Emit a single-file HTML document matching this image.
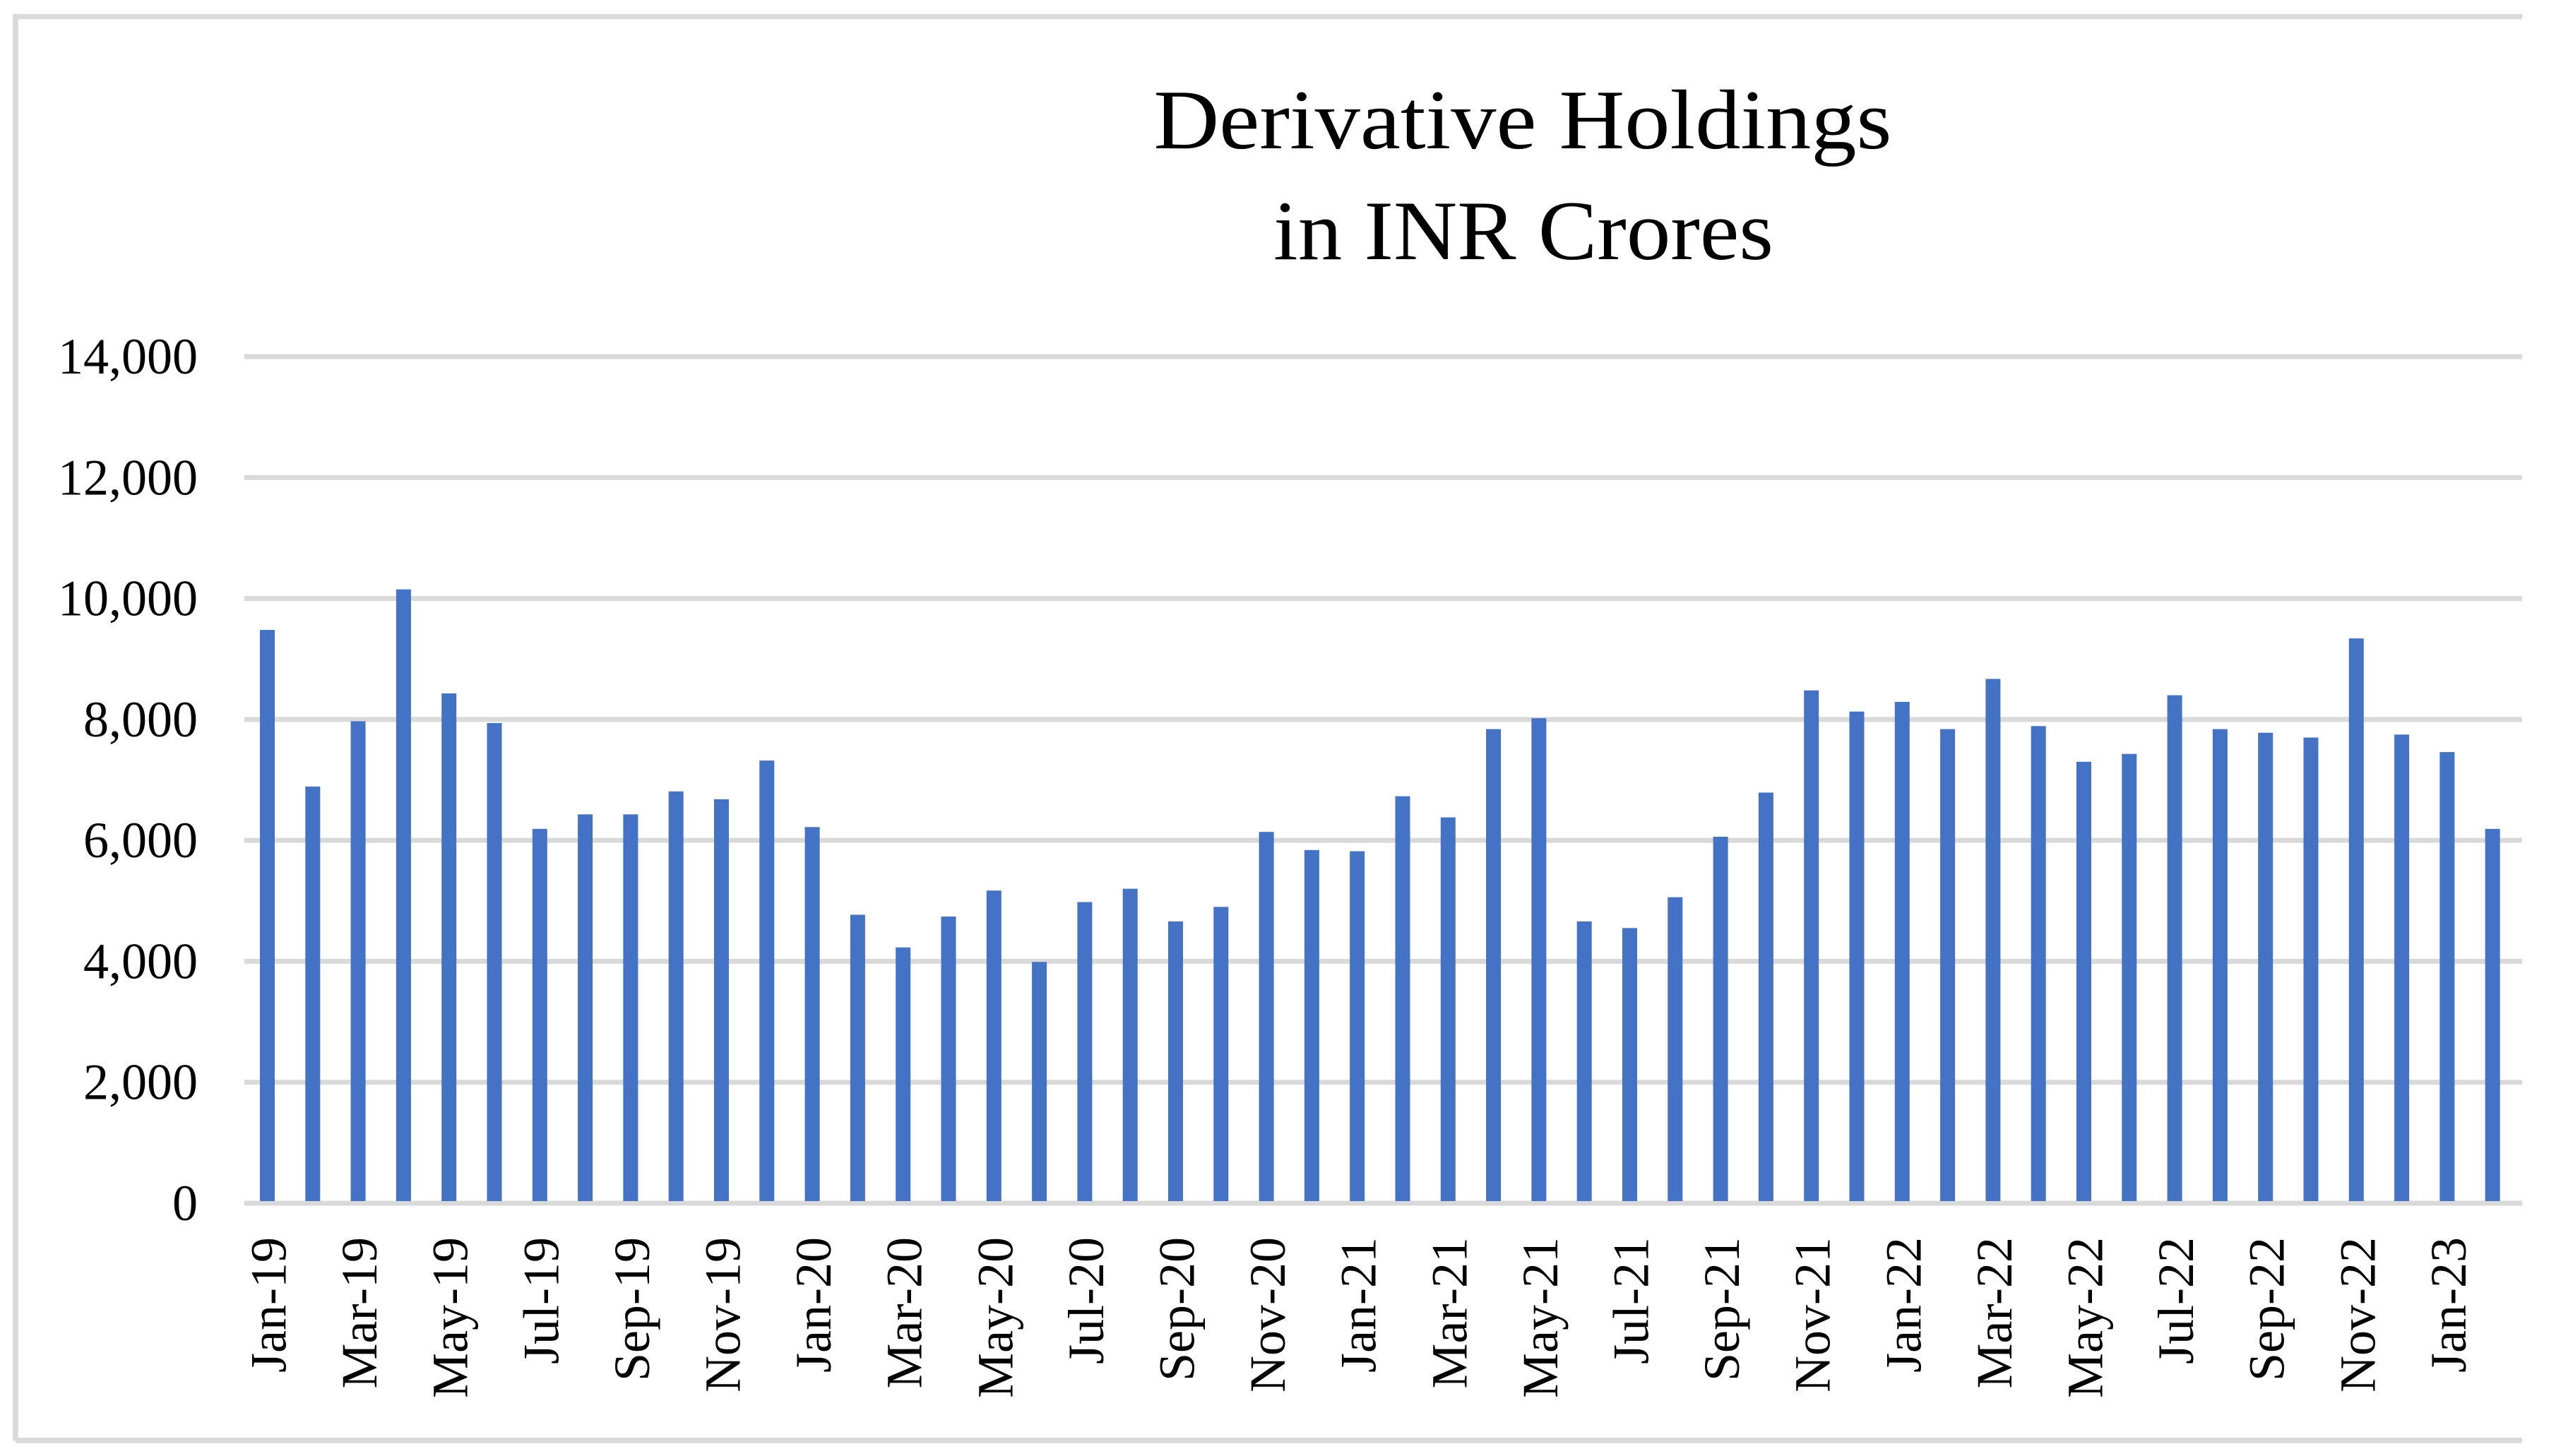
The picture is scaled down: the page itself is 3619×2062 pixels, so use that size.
<!DOCTYPE html>
<html><head><meta charset="utf-8"><style>html,body{margin:0;padding:0;background:#fff;}svg{display:block;}</style></head>
<body>
<svg id="chart" width="3619" height="2062" viewBox="0 0 3619 2062" xmlns="http://www.w3.org/2000/svg">
<defs><clipPath id="clip"><rect x="0" y="0" width="3571" height="2062"/></clipPath></defs>
<rect width="3619" height="2062" fill="#fff"/>
<g clip-path="url(#clip)">
<path d="M22,2040 V23.5 H3600 M22,2040 H3600" fill="none" stroke="#D9D9D9" stroke-width="7.5"/>
<text x="2156" y="210" text-anchor="middle" font-family="Liberation Serif, serif" font-size="120" textLength="1045" lengthAdjust="spacingAndGlyphs">Derivative Holdings</text>
<text x="2157" y="367" text-anchor="middle" font-family="Liberation Serif, serif" font-size="120" textLength="708" lengthAdjust="spacingAndGlyphs">in INR Crores</text>
<g id="grid"></g><g id="bars"></g><g id="ylabels"></g><g id="xlabels"></g>
</g>
</svg>
<script>
const months = ["Jan-19","Feb-19","Mar-19","Apr-19","May-19","Jun-19","Jul-19","Aug-19","Sep-19","Oct-19","Nov-19","Dec-19",
"Jan-20","Feb-20","Mar-20","Apr-20","May-20","Jun-20","Jul-20","Aug-20","Sep-20","Oct-20","Nov-20","Dec-20",
"Jan-21","Feb-21","Mar-21","Apr-21","May-21","Jun-21","Jul-21","Aug-21","Sep-21","Oct-21","Nov-21","Dec-21",
"Jan-22","Feb-22","Mar-22","Apr-22","May-22","Jun-22","Jul-22","Aug-22","Sep-22","Oct-22","Nov-22","Dec-22",
"Jan-23","Feb-23","Mar-23"];
const holdings = [9480,6890,7970,10150,8430,7940,6190,6430,6430,6810,6680,7320,
6220,4770,4230,4740,5170,3990,4980,5200,4660,4900,6140,5840,
5820,6730,6380,7840,8020,4660,4550,5060,6060,6790,8480,8130,
8290,7840,8670,7890,7300,7430,8400,7840,7780,7700,9340,7750,
7460,6190];
const yTicks = [0,2000,4000,6000,8000,10000,12000,14000];
const yTickLabels = ["0","2,000","4,000","6,000","8,000","10,000","12,000","14,000"];

const NS="http://www.w3.org/2000/svg";
const plotL=346, plotR=3571, y0=1704, yTop=505, yMax=14000;
const step=64.3, barW=21;
function yScale(v){return y0-(v/yMax)*(y0-yTop);}
function xCenter(i){return plotL+32.5+i*step;}
function mk(tag,attrs,parent){const e=document.createElementNS(NS,tag);for(const k in attrs)e.setAttribute(k,attrs[k]);parent.appendChild(e);return e;}

const grid=document.getElementById('grid');
yTicks.forEach((t,i)=>{
  const l=mk('line',{x1:plotL,x2:plotR,y1:yScale(t),y2:yScale(t),stroke:'#D9D9D9','stroke-width':7},grid);
  
  
  const tx=mk('text',{x:280,y:yScale(t),'text-anchor':'end','dominant-baseline':'central','font-family':'Liberation Serif, serif','font-size':72},document.getElementById('ylabels'));
  tx.textContent=yTickLabels[i];
  
  
});
const bars=document.getElementById('bars');
holdings.forEach((v,i)=>{
  const r=mk('rect',{x:xCenter(i)-barW/2,y:yScale(v),width:barW,height:y0-3-yScale(v),fill:'#4472C4'},bars);
  
  
});
const xl=document.getElementById('xlabels');
months.forEach((m,i)=>{
  if(i%2!==0) return;
  const cx=xCenter(i);
  const t=mk('text',{x:0,y:0,transform:`translate(${cx+2},1752) rotate(-90)`,'text-anchor':'end','dominant-baseline':'central','font-family':'Liberation Serif, serif','font-size':72},xl);
  t.textContent=m;
  
  
});
</script>
</body></html>
